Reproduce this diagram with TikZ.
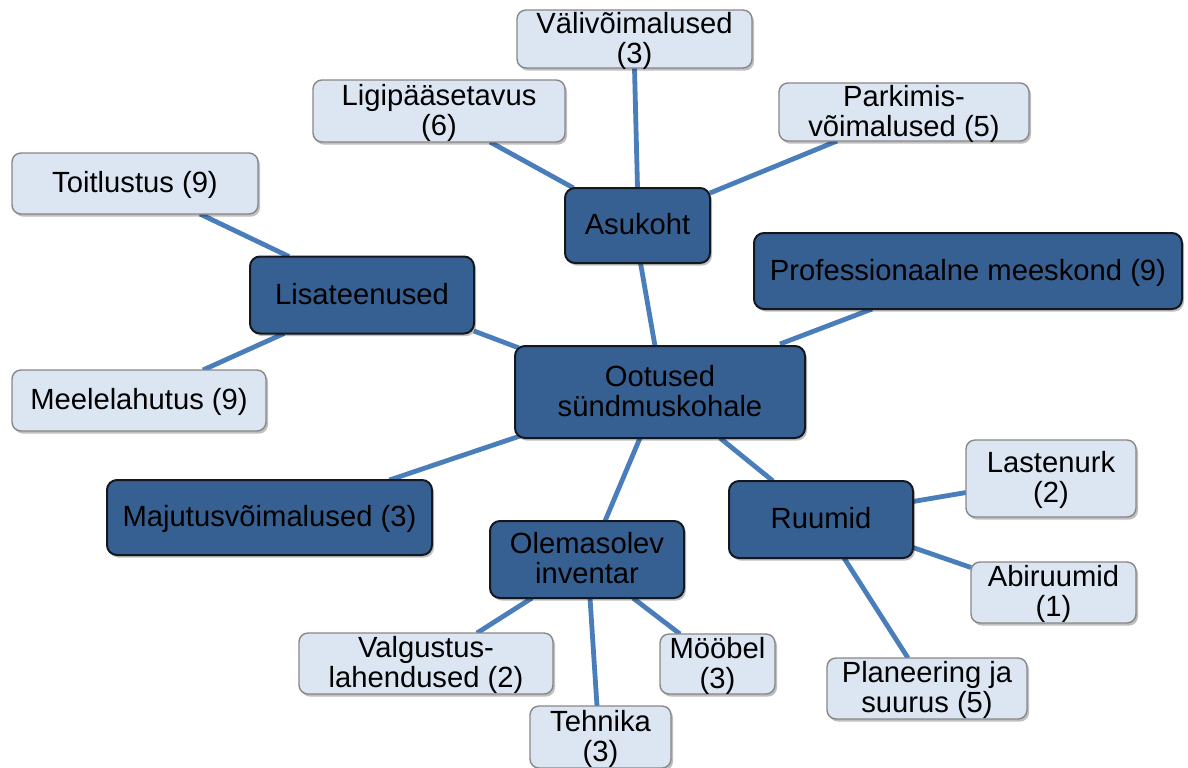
\documentclass[tikz,border=0pt]{standalone}
\usepackage{fontspec}
\setmainfont{Liberation Sans}
\usetikzlibrary{calc,shadows,backgrounds}

\definecolor{darkfill}{RGB}{54,96,146}
\definecolor{darkedge}{RGB}{20,24,30}
\definecolor{lightfill}{RGB}{220,230,242}
\definecolor{lightedge}{RGB}{135,135,135}
\definecolor{linkblue}{RGB}{74,126,187}

% centred multi-line text that does not change the box size
\newcommand\boxtext[2][0pt]{\smash{\raisebox{\dimexpr-0.25em-1.5pt+#1\relax}{\begin{tabular}{@{}c@{}}#2\end{tabular}}}}

\tikzset{
  wh/.style 2 args={minimum width=#1*0.5pt, minimum height=#2*0.5pt},
  boxbase/.style={rectangle, inner sep=0pt, outer sep=0pt,
    font=\fontsize{14.6}{15}\selectfont,
    drop shadow={shadow xshift=1pt, shadow yshift=-1.3pt, opacity=0.25, fill=black}},
  darkbox/.style={boxbase, fill=darkfill, draw=darkedge, line width=1pt, rounded corners=5pt},
  lightbox/.style={boxbase, fill=lightfill, draw=lightedge, line width=0.7pt, rounded corners=4.5pt},
  link/.style={draw=linkblue, line width=2.4pt}
}

\begin{document}
\begin{tikzpicture}[x=0.5pt, y=-0.5pt]
\useasboundingbox (0,0) rectangle (1188,767);

% main topic and categories
\node[darkbox, wh={290}{92}] (center) at (660,392) {\boxtext{Ootused\\sündmuskohale}};
\node[darkbox, wh={145}{75}] (asu) at (637.5,225.5) {\boxtext{Asukoht}};
\node[darkbox, wh={224}{77}] (lis) at (362,295) {\boxtext{Lisateenused}};
\node[darkbox, wh={428}{76}] (prof) at (968,271) {\boxtext{Professionaalne meeskond (9)}};
\node[darkbox, wh={325}{75}] (maj) at (269.5,517.5) {\boxtext{Majutusvõimalused (3)}};
\node[darkbox, wh={194}{77}] (ole) at (587,559.5) {\boxtext{Olemasolev\\inventar}};
\node[darkbox, wh={184}{77}] (ruu) at (821,519.5) {\boxtext{Ruumid}};

% sub-items
\node[lightbox, wh={235}{58}] (vali) at (634.5,39) {\boxtext{Välivõimalused\\(3)}};
\node[lightbox, wh={252}{62}] (lig) at (439,111) {\boxtext{Ligipääsetavus\\(6)}};
\node[lightbox, wh={250}{58}] (park) at (904,112) {\boxtext{Parkimis-\\võimalused (5)}};
\node[lightbox, wh={246}{61}] (toit) at (135,183.5) {\boxtext{Toitlustus (9)}};
\node[lightbox, wh={254}{61}] (meel) at (139,400.5) {\boxtext{Meelelahutus (9)}};
\node[lightbox, wh={170}{77}] (last) at (1051,478.5) {\boxtext{Lastenurk\\(2)}};
\node[lightbox, wh={165}{61}] (abi) at (1053.5,592.5) {\boxtext{Abiruumid\\(1)}};
\node[lightbox, wh={200}{61}] (plan) at (927,688.5) {\boxtext{Planeering ja\\suurus (5)}};
\node[lightbox, wh={115}{60}] (moo) at (717.5,664) {\boxtext{Mööbel\\(3)}};
\node[lightbox, wh={141}{62}] (teh) at (600.5,737) {\boxtext{Tehnika\\(3)}};
\node[lightbox, wh={254}{61}] (val) at (426,663.5) {\boxtext{Valgustus-\\lahendused (2)}};

% connectors behind the boxes
\begin{scope}[on background layer]
  \draw[link] ($(toit.south)+(65,0)$) -- ($(lis.north)+(-73,0)$);
  \draw[link] ($(lis.south)+(-78,0)$) -- ($(meel.north)+(64,0)$);
  \draw[link] ($(lis.east)+(0,36)$) -- ($(center.north west)+(4,2)$);
  \draw[link] ($(lig.south)+(51,0)$) -- ($(asu.north)+(-64,0)$);
  \draw[link] (vali.south) -- (asu.north);
  \draw[link] ($(park.south)+(-67,0)$) -- ($(asu.north east)+(0,5)$);
  \draw[link] ($(asu.south)+(3,0)$) -- ($(center.north)+(-5,0)$);
  \draw[link] ($(prof.south)+(-96,0)$) -- ($(center.north east)+(-25,-2)$);
  \draw[link] ($(center.south west)+(5,-2)$) -- ($(maj.north)+(120,0)$);
  \draw[link] ($(center.south)+(-20,0)$) -- ($(ole.north)+(18,0)$);
  \draw[link] ($(center.south)+(60,0)$) -- ($(ruu.north)+(-48,0)$);
  \draw[link] ($(ole.south)+(-55,0)$) -- ($(val.north)+(51,0)$);
  \draw[link] ($(ole.south)+(3,0)$) -- ($(teh.north)+(-3.5,0)$);
  \draw[link] ($(ole.south)+(46,0)$) -- ($(moo.north)+(-37.5,0)$);
  \draw[link] ($(ruu.east)+(0,-18)$) -- ($(last.west)+(0,14)$);
  \draw[link] ($(ruu.east)+(0,28)$) -- ($(abi.west)+(0,-25)$);
  \draw[link] ($(ruu.south)+(23,0)$) -- ($(plan.north)+(-19,0)$);
\end{scope}
\end{tikzpicture}
\end{document}
